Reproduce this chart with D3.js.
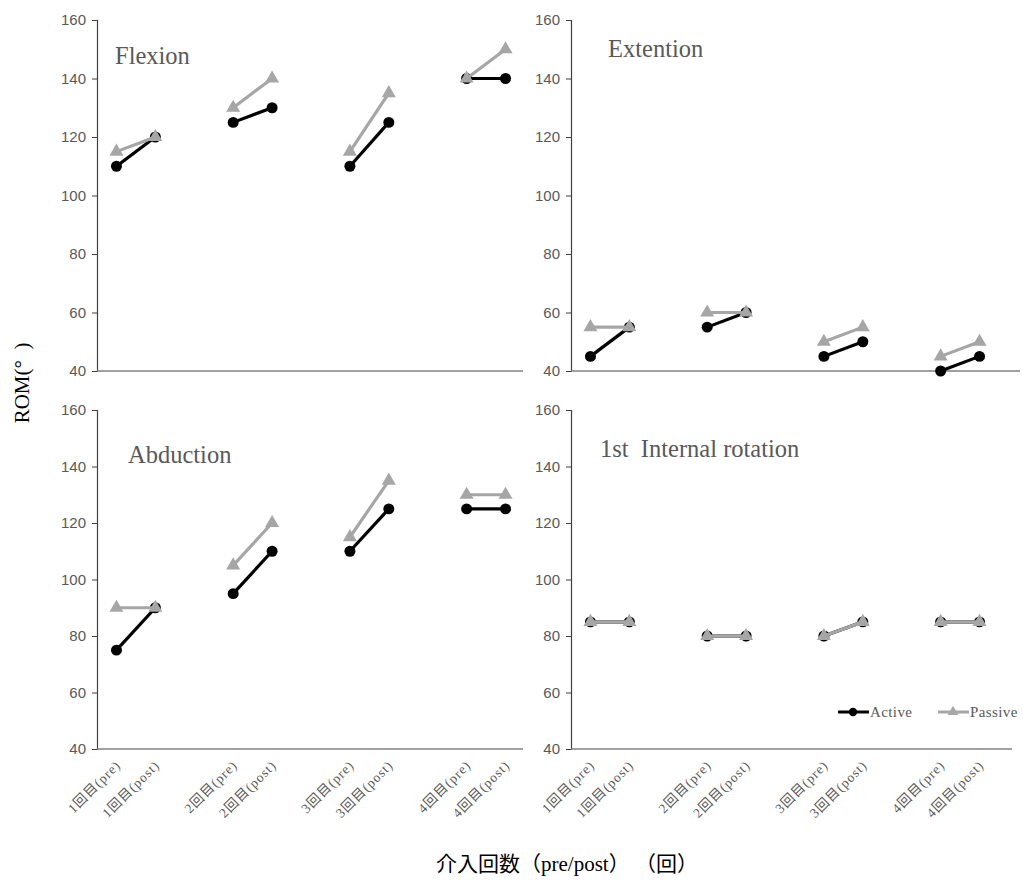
<!DOCTYPE html>
<html>
<head>
<meta charset="utf-8">
<script src="https://cdn.jsdelivr.net/npm/d3@7"></script>
<style>
  body { margin: 0; background: #ffffff; }
  svg { display: block; }
</style>
</head>
<body>
<div id="chart"></div>
<script>
const categories = [
  "1回目(pre)", "1回目(post)", "",
  "2回目(pre)", "2回目(post)", " ",
  "3回目(pre)", "3回目(post)", "  ",
  "4回目(pre)", "4回目(post)",
];
const yTicks = [40, 60, 80, 100, 120, 140, 160];

const flexionActive = [110, 120, 125, 130, 110, 125, 140, 140];
const flexionPassive = [115, 120, 130, 140, 115, 135, 140, 150];
const extentionActive = [45, 55, 55, 60, 45, 50, 40, 45];
const extentionPassive = [55, 55, 60, 60, 50, 55, 45, 50];
const abductionActive = [75, 90, 95, 110, 110, 125, 125, 125];
const abductionPassive = [90, 90, 105, 120, 115, 135, 130, 130];
const rotationActive = [85, 85, 80, 80, 80, 85, 85, 85];
const rotationPassive = [85, 85, 80, 80, 80, 85, 85, 85];

const pointLabels = categories.filter((c) => c.trim() !== "");

const width = 1023;
const height = 882;
const activeColor = "#000000";
const passiveColor = "#a6a6a6";
const textGray = "#595959";
const serif = "'Liberation Serif', 'DejaVu Serif', 'Noto Sans CJK JP', serif";
const narrow = "'Liberation Sans Narrow', 'Liberation Sans', sans-serif";

const panels = [
  { title: "Flexion", active: flexionActive, passive: flexionPassive,
    x0: 97, axisEnd: 523, top: 20, bottom: 371, tx: 115, ty: 64, showX: false },
  { title: "Extention", active: extentionActive, passive: extentionPassive,
    x0: 571, axisEnd: 1020, top: 20, bottom: 371, tx: 608, ty: 57, showX: false },
  { title: "Abduction", active: abductionActive, passive: abductionPassive,
    x0: 97, axisEnd: 523, top: 410, bottom: 749, tx: 128, ty: 463, showX: true },
  { title: "1st\u00a0\u00a0Internal rotation", active: rotationActive, passive: rotationPassive,
    x0: 571, axisEnd: 1012, top: 410, bottom: 749, tx: 600, ty: 457, showX: true },
];

const svg = d3.select("#chart")
  .append("svg")
  .attr("width", width)
  .attr("height", height);

panels.forEach((p) => {
  const x = d3.scaleBand()
    .domain(categories)
    .range([p.x0, p.x0 + 428]);

  const y = d3.scaleLinear()
    .domain([40, 160])
    .range([p.bottom, p.top]);

  const g = svg.append("g");

  // y axis
  const yAxis = g.append("g")
    .attr("transform", `translate(${p.x0},0)`)
    .call(d3.axisLeft(y).tickValues(yTicks).tickSize(5).tickPadding(6));
  yAxis.select(".domain").attr("stroke", "#404040").attr("stroke-width", 1.2);
  yAxis.selectAll(".tick line").attr("stroke", "#404040");
  yAxis.selectAll(".tick text")
    .attr("fill", textGray)
    .style("font-family", narrow)
    .style("font-size", "15px");

  // x axis line
  g.append("line")
    .attr("x1", p.x0)
    .attr("x2", p.axisEnd)
    .attr("y1", p.bottom)
    .attr("y2", p.bottom)
    .attr("stroke", "#808080")
    .attr("stroke-width", 1.5);

  if (p.showX) {
    g.selectAll(".xlabel")
      .data(pointLabels)
      .enter()
      .append("text")
      .attr("class", "xlabel")
      .attr("transform", (d) =>
        `translate(${x(d) + x.bandwidth() / 2 + 5},${p.bottom + 17}) rotate(-45)`)
      .attr("text-anchor", "end")
      .attr("fill", textGray)
      .style("font-family", serif)
      .style("font-size", "13.5px")
      .style("letter-spacing", "1px")
      .text((d) => d);
  }

  g.append("text")
    .attr("x", p.tx)
    .attr("y", p.ty)
    .attr("fill", textGray)
    .style("font-family", serif)
    .style("font-size", "24.5px")
    .text(p.title);

  const drawSeries = (values, color, symbol) => {
    const pts = values.map((v, i) => ({ cat: pointLabels[i], v }));
    for (let k = 0; k < pts.length; k += 2) {
      const pair = pts.slice(k, k + 2);
      g.append("path")
        .datum(pair)
        .attr("fill", "none")
        .attr("stroke", color)
        .attr("stroke-width", 3.2)
        .attr("d", d3.line()
          .x((d) => x(d.cat) + x.bandwidth() / 2)
          .y((d) => y(d.v)));
    }
    g.selectAll(null)
      .data(pts)
      .enter()
      .append("path")
      .attr("transform", (d) =>
        `translate(${x(d.cat) + x.bandwidth() / 2},${y(d.v)})`)
      .attr("fill", color)
      .attr("d", d3.symbol().type(symbol).size(symbol === d3.symbolCircle ? 95 : 85));
  };

  drawSeries(p.active, activeColor, d3.symbolCircle);
  drawSeries(p.passive, passiveColor, d3.symbolTriangle);
});

// legend
const legendItems = [
  { name: "Active", color: activeColor, symbol: d3.symbolCircle, x: 838 },
  { name: "Passive", color: passiveColor, symbol: d3.symbolTriangle, x: 938 },
];
const legend = svg.append("g");
legendItems.forEach((item) => {
  legend.append("line")
    .attr("x1", item.x)
    .attr("x2", item.x + 31)
    .attr("y1", 712)
    .attr("y2", 712)
    .attr("stroke", item.color)
    .attr("stroke-width", 3);
  legend.append("path")
    .attr("transform", `translate(${item.x + 15},712)`)
    .attr("fill", item.color)
    .attr("d", d3.symbol().type(item.symbol).size(item.symbol === d3.symbolCircle ? 55 : 50));
  legend.append("text")
    .attr("x", item.x + 32)
    .attr("y", 717)
    .attr("fill", textGray)
    .style("font-family", serif)
    .style("font-size", "15px")
    .style("letter-spacing", "0.4px")
    .text(item.name);
});

// axis titles
svg.append("text")
  .attr("transform", "translate(29,383) rotate(-90)")
  .attr("text-anchor", "middle")
  .attr("fill", "#000000")
  .style("font-family", serif)
  .style("font-size", "21px")
  .text("ROM(°\u00a0\u00a0)");

svg.append("text")
  .attr("x", 567)
  .attr("y", 871)
  .attr("text-anchor", "middle")
  .attr("fill", "#000000")
  .style("font-family", serif)
  .style("font-size", "21px")
  .text("介入回数（pre/post）\u00a0（回）");
</script>
</body>
</html>
